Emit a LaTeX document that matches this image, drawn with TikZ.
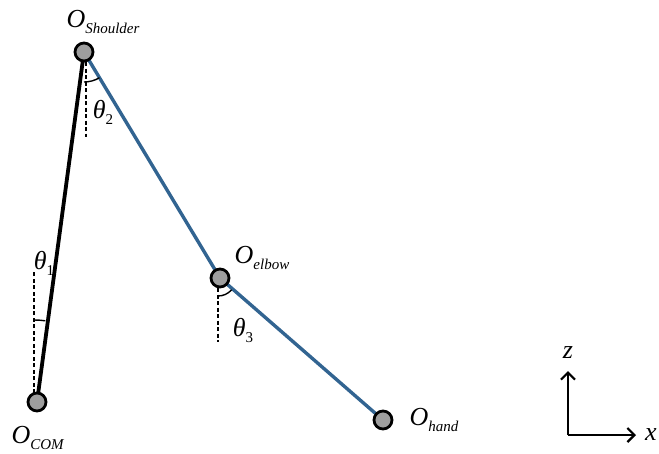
\documentclass[tikz,border=0pt]{standalone}
\usepackage{fontspec}
\setmainfont{Liberation Serif}
\usetikzlibrary{arrows.meta}

% symbol with a lowered subscript
\newcommand{\sym}[2]{\textit{#1}\raisebox{-0.5ex}{\fontsize{15}{15}\selectfont #2}}
\definecolor{armblue}{RGB}{50,100,145}

\begin{document}
\begin{tikzpicture}[x=1pt, y=-1pt, every node/.style={font=\fontsize{26}{28}\selectfont, inner sep=0pt}, >={Straight Barb[length=7pt, width=14pt]},
	joint/.style={circle, draw=black, line width=2.8pt, fill=black!38, minimum size=18pt},
	refline/.style={line width=1.8pt, dash pattern=on 4pt off 2.5pt},
	anglearc/.style={line width=1.4pt}]
	\clip (0,0) rectangle (659,453);
	\useasboundingbox (0,0) rectangle (659,453);
	\coordinate (sh) at (84,52);
	\coordinate (com) at (37,402);
	\coordinate (el) at (220,278);
	\coordinate (ha) at (383,420);
	% links
	\draw[line width=3.8pt] (com) -- (sh);
	\draw[armblue, line width=3.4pt] (sh) -- (el) -- (ha);
	% vertical references and angles
	\draw[refline] ([xshift=2]sh) ++(0,10) -- ++(0,75);
	\draw[refline] ([xshift=-3]com) ++(0,-9) -- ++(0,-121);
	\draw[refline] ([xshift=-2]el) ++(0,10) -- ++(0,54);
	\draw[anglearc] (sh) ++(0,30) arc[start angle=90, end angle=59, radius=30];
	\draw[anglearc] (com) ++(-3,-82) arc[start angle=-90, end angle=-82, radius=82];
	\draw[anglearc] (el) ++(-2,18) arc[start angle=90, end angle=41, radius=18];
	% joints
	\node[joint] (shj) at (sh) {};
	\node[joint] (comj) at (com) {};
	\node[joint] (elj) at (el) {};
	\node[joint] (haj) at (ha) {};
	\node (shl) at (103,22) {\sym{O}{\textit{Shoulder}}};
	\node (coml) at (38,438) {\sym{O}{\textit{COM}}};
	\node (ell) at (262,258) {\sym{O}{\textit{elbow}}};
	\node (hal) at (434,420) {\sym{O}{\textit{hand}}};
	\node (t1) at (44,263) {\sym{θ}{1}};
	\node (t2) at (103,112) {\sym{θ}{2}};
	\node (t3) at (243,330) {\sym{θ}{3}};
	% axes
	\coordinate (org) at (568,435);
	\node (zl) at (568,353) {\textit{z}};
	\node[anchor=west] (xl) at (645,435) {\textit{x}};
	\draw[->, line width=2.2pt] (org) -- (568,371);
	\draw[->, line width=2.2pt] (org) -- (636,435);
\end{tikzpicture}
\end{document}
